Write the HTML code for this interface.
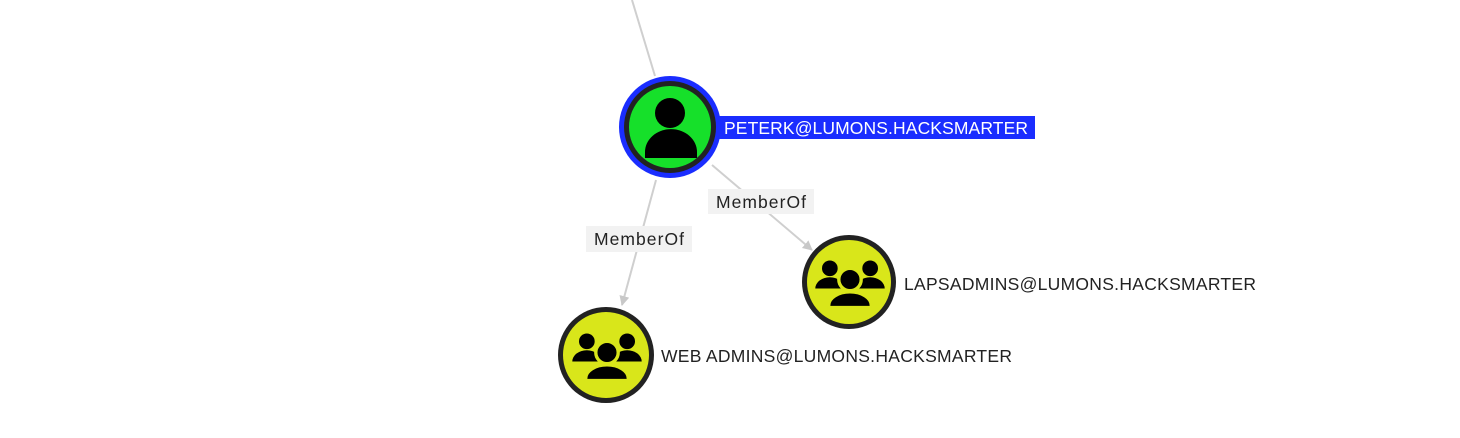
<!DOCTYPE html>
<html><head><meta charset="utf-8"><style>
html,body{margin:0;padding:0;background:#fff;width:1460px;height:438px;overflow:hidden}
svg{display:block}
text{font-family:"Liberation Sans",Arial,sans-serif;font-size:17.5px}
</style></head><body>
<svg width="1460" height="438" viewBox="0 0 1460 438">
<defs>
<marker id="a" markerWidth="10" markerHeight="10" refX="9" refY="5" orient="auto" markerUnits="userSpaceOnUse">
<path d="M0,0 L10,5 L0,10 Z" fill="#c8c8c8"/></marker>
<g id="grp">
<circle cx="-18" cy="-14" r="7" fill="#000"/>
<circle cx="18" cy="-14" r="7" fill="#000"/>
<path d="M-31,4 a13,10 0 0 1 26,0 Z" fill="#000"/>
<path d="M5,4 a13,10 0 0 1 26,0 Z" fill="#000"/>
<circle cx="0" cy="-4" r="10" fill="#000" stroke="#d9e61a" stroke-width="3"/>
<path d="M-19,21 v-2 a19,12 0 0 1 38,0 v2 Z" fill="#000" stroke="#d9e61a" stroke-width="3"/>
</g>
</defs>
<line x1="632" y1="0" x2="655" y2="76" stroke="#cfcfcf" stroke-width="2"/>
<line x1="656" y1="180" x2="622" y2="305" stroke="#cfcfcf" stroke-width="2" marker-end="url(#a)"/>
<line x1="712" y1="165" x2="812" y2="250" stroke="#cfcfcf" stroke-width="2" marker-end="url(#a)"/>
<rect x="708" y="189" width="106" height="25" fill="#f2f2f2"/>
<text x="716" y="208" textLength="90" fill="#222">MemberOf</text>
<rect x="586" y="226" width="106" height="26" fill="#f2f2f2"/>
<text x="594" y="245" textLength="90" fill="#222">MemberOf</text>
<rect x="718" y="116" width="317" height="23" fill="#1a2dff"/>
<text x="724" y="134" textLength="304" fill="#fff">PETERK@LUMONS.HACKSMARTER</text>
<circle cx="670" cy="127" r="51" fill="#1a2dff"/>
<circle cx="670" cy="127" r="46" fill="#222"/>
<circle cx="670" cy="127" r="41" fill="#16e02a"/>
<circle cx="670" cy="113" r="15" fill="#000"/>
<path d="M645,158 v-6 a25,22 0 0 1 52,0 v6 Z" fill="#000"/>
<circle cx="849" cy="282" r="47" fill="#222"/>
<circle cx="849" cy="282" r="42" fill="#d9e61a"/>
<use href="#grp" transform="translate(850,284) scale(1.12)"/>
<text x="904" y="290" textLength="352" fill="#222">LAPSADMINS@LUMONS.HACKSMARTER</text>
<circle cx="606" cy="355" r="48" fill="#222"/>
<circle cx="606" cy="355" r="43" fill="#d9e61a"/>
<use href="#grp" transform="translate(607,357) scale(1.12)"/>
<text x="661" y="362" textLength="351" fill="#222">WEB ADMINS@LUMONS.HACKSMARTER</text>
</svg>
</body></html>
